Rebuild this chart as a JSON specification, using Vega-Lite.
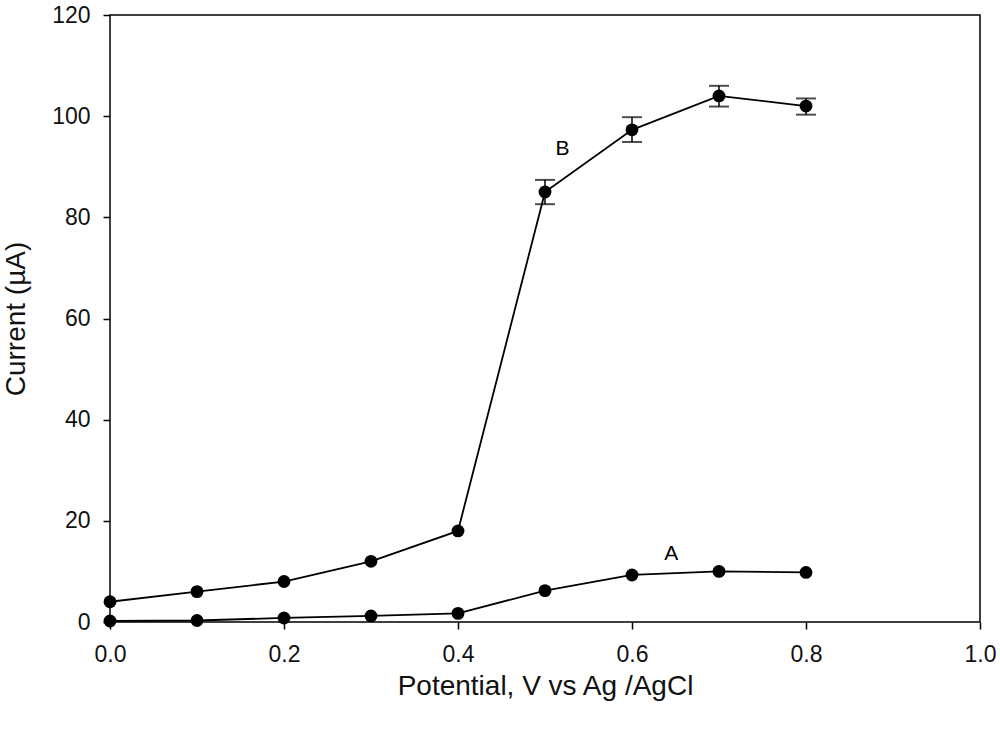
{
  "$schema": "https://vega.github.io/schema/vega-lite/v6.json",
  "autosize": "none",
  "width": 870,
  "height": 607,
  "padding": {"left": 110, "top": 15, "right": 20, "bottom": 109},
  "background": "white",
  "config": {
    "view": {"stroke": "black", "strokeWidth": 1.5},
    "font": "Liberation Sans",
    "axis": {
      "grid": false,
      "domain": false,
      "tickColor": "black",
      "tickWidth": 1.5,
      "tickSize": 7,
      "labelFlush": false,
      "labelFont": "Liberation Sans",
      "labelFontSize": 23,
      "labelColor": "#111",
      "titleFont": "Liberation Sans",
      "titleFontSize": 28,
      "titleFontWeight": "normal",
      "titleColor": "#111"
    }
  },
  "data": {
    "values": [
      {"series": "B", "x": 0.0, "y": 4.0, "lo": 3.5, "hi": 4.5},
      {"series": "B", "x": 0.1, "y": 6.0, "lo": 5.6, "hi": 6.4},
      {"series": "B", "x": 0.2, "y": 8.0, "lo": 7.6, "hi": 8.4},
      {"series": "B", "x": 0.3, "y": 12.0, "lo": 11.4, "hi": 12.6},
      {"series": "B", "x": 0.4, "y": 18.0, "lo": 17.2, "hi": 18.8},
      {"series": "B", "x": 0.5, "y": 85.0, "lo": 82.6, "hi": 87.4},
      {"series": "B", "x": 0.6, "y": 97.3, "lo": 94.9, "hi": 99.8},
      {"series": "B", "x": 0.7, "y": 104.0, "lo": 101.9, "hi": 106.0},
      {"series": "B", "x": 0.8, "y": 102.0, "lo": 100.3, "hi": 103.5},
      {"series": "A", "x": 0.0, "y": 0.2, "lo": 0.1, "hi": 0.3},
      {"series": "A", "x": 0.1, "y": 0.3, "lo": 0.2, "hi": 0.4},
      {"series": "A", "x": 0.2, "y": 0.8, "lo": 0.6, "hi": 1.0},
      {"series": "A", "x": 0.3, "y": 1.2, "lo": 1.0, "hi": 1.4},
      {"series": "A", "x": 0.4, "y": 1.7, "lo": 1.5, "hi": 1.9},
      {"series": "A", "x": 0.5, "y": 6.2, "lo": 5.9, "hi": 6.5},
      {"series": "A", "x": 0.6, "y": 9.3, "lo": 9.0, "hi": 9.6},
      {"series": "A", "x": 0.7, "y": 10.0, "lo": 9.7, "hi": 10.3},
      {"series": "A", "x": 0.8, "y": 9.8, "lo": 9.5, "hi": 10.1}
    ]
  },
  "encoding": {
    "x": {
      "field": "x", "type": "quantitative",
      "scale": {"domain": [0, 1], "nice": false},
      "axis": {"values": [0, 0.2, 0.4, 0.6, 0.8, 1.0], "format": ".1f", "title": "Potential, V vs Ag /AgCl", "titlePadding": 6, "labelPadding": 14}
    },
    "y": {
      "field": "y", "type": "quantitative",
      "scale": {"domain": [0, 120], "nice": false},
      "axis": {"values": [0, 20, 40, 60, 80, 100, 120], "title": "Current (µA)", "titlePadding": 21, "labelPadding": 13}
    }
  },
  "layer": [
    {
      "mark": {"type": "line", "color": "black", "strokeWidth": 1.8},
      "encoding": {"detail": {"field": "series"}}
    },
    {
      "mark": {"type": "rule", "color": "black", "strokeWidth": 1.5},
      "encoding": {"y": {"field": "lo", "type": "quantitative"}, "y2": {"field": "hi"}}
    },
    {
      "mark": {"type": "tick", "orient": "horizontal", "color": "black", "size": 20, "thickness": 2},
      "encoding": {"y": {"field": "lo", "type": "quantitative"}},
      "transform": [{"filter": "datum.x >= 0.5 && datum.series == 'B'"}]
    },
    {
      "mark": {"type": "tick", "orient": "horizontal", "color": "black", "size": 20, "thickness": 2},
      "encoding": {"y": {"field": "hi", "type": "quantitative"}},
      "transform": [{"filter": "datum.x >= 0.5 && datum.series == 'B'"}]
    },
    {
      "mark": {"type": "point", "filled": true, "color": "black", "size": 165, "opacity": 1}
    },
    {
      "data": {"values": [{"x": 0.52, "y": 93.5, "t": "B"}, {"x": 0.645, "y": 13.5, "t": "A"}]},
      "mark": {"type": "text", "font": "Liberation Sans", "fontSize": 21, "color": "black", "align": "center", "baseline": "middle"},
      "encoding": {"text": {"field": "t"}}
    }
  ]
}
